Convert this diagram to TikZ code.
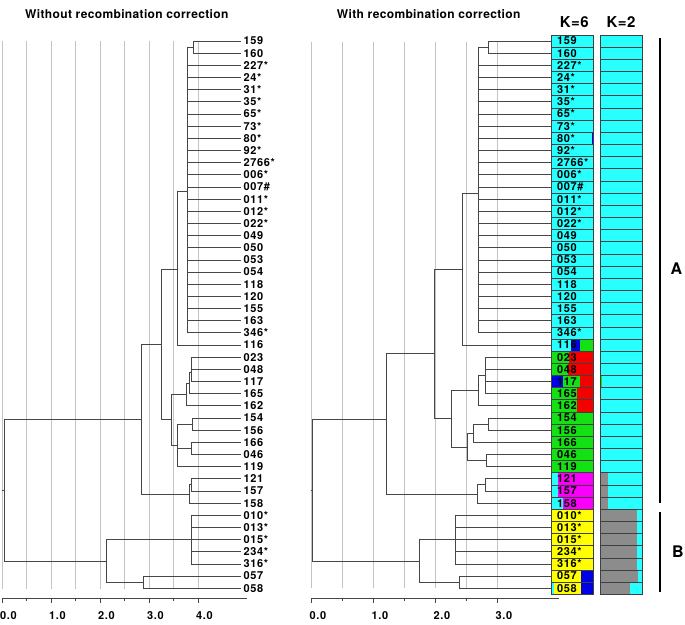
\documentclass[tikz,border=0pt]{standalone}
\usepackage{fontspec}
\setmainfont{TeX Gyre Heros}
\newfontfamily\labfont[LetterSpace=6]{TeX Gyre Heros}
\newfontfamily\titlefont[LetterSpace=3]{TeX Gyre Heros}

\definecolor{kcyan}{RGB}{40,255,255}
\definecolor{kgreen}{RGB}{20,225,20}
\definecolor{kred}{RGB}{245,0,0}
\definecolor{kblue}{RGB}{0,0,230}
\definecolor{kmag}{RGB}{250,0,250}
\definecolor{kyellow}{RGB}{255,255,0}
\definecolor{kgray}{RGB}{140,140,140}
\definecolor{gridgray}{RGB}{195,195,195}
\definecolor{treegray}{RGB}{70,70,70}

\tikzset{
  treeline/.style={draw=treegray, line width=0.7pt},
  gridline/.style={draw=gridgray, line width=0.9pt},
  axisline/.style={draw=treegray, line width=0.8pt},
  rowbox/.style={draw=black!75, line width=0.5pt},
  leaflab/.style={anchor=west, inner ysep=0pt, outer sep=0pt, text height=7.9pt, text depth=0pt,
    font=\fontsize{11}{12}\labfont\bfseries},
  axislab/.style={anchor=base west, inner sep=0pt, font=\fontsize{11}{12}\labfont\bfseries},
  paneltitle/.style={anchor=base west, inner sep=0pt, font=\fontsize{12}{14}\titlefont\bfseries},
  khead/.style={anchor=base, inner sep=0pt, font=\fontsize{15}{16}\titlefont\bfseries},
  grouplab/.style={inner sep=0pt, font=\fontsize{16}{16}\selectfont\bfseries},
  groupbar/.style={draw=black, line width=2.6pt}
}

\begin{document}
\begin{tikzpicture}[x=1pt, y=-1pt]
  \useasboundingbox (0,0) rectangle (685,624);

  % Titles
  \node[paneltitle] (titleA) at (25,18.3) {Without recombination correction};
  \node[paneltitle] (titleB) at (336.7,18.3) {With recombination correction};
  \node[khead] (k6) at (574.3,27.7) {K=6};
  \node[khead] (k2) at (621,27.7) {K=2};

  % Grid lines
  \foreach \k in {0,...,8}
    \draw[gridline] ({2+24.5*\k},41) -- ({2+24.5*\k},588.5);
  \foreach \k in {0,...,6}
    \draw[gridline] ({311.7+31*\k},41.7) -- ({311.7+31*\k},588);

  % Axes
  \coordinate (axA0) at (2,598);
  \coordinate (axA1) at (247,598);
  \coordinate (axB0) at (311.7,598);
  \coordinate (axB1) at (559,598);
  \draw[axisline] (axA0) -- (axA1);
  \draw[axisline] (axB0) -- (axB1);
  \foreach \k in {0,...,8} {
    \pgfmathsetmacro\tl{ifthenelse(mod(\k,2)==0,4.5,2.5)}
    \draw[axisline] ({2+24.5*\k},598) -- ++(0,\tl);
  }
  \foreach \k in {0,...,6} {
    \pgfmathsetmacro\tl{ifthenelse(mod(\k,2)==0,4.5,2.5)}
    \draw[axisline] ({311.7+31*\k},598) -- ++(0,\tl);
  }
  \foreach \v [count=\k from 0] in {0.0,1.0,2.0,3.0,4.0}
    \node[axislab] (tA\k) at ({0+49*\k},619.3) {\v};
  \foreach \v [count=\k from 0] in {0.0,1.0,2.0,3.0}
    \node[axislab] (tB\k) at ({309.5+62*\k},619.3) {\v};

  % K=6 and K=2 bars
  \foreach \r in {1,...,46} {
    \pgfmathsetmacro\ytop{22.76+\r*12.16}
    \pgfmathsetmacro\ybot{34.92+\r*12.16}
    \fill[kcyan] (551.7,\ytop) rectangle (593.3,\ybot);
    \fill[kcyan] (600.7,\ytop) rectangle (642.3,\ybot);
  }
  \foreach \r/\xa/\xb/\c in {9/591.5/593.3/kblue,
      26/570.7/580/kblue, 26/580/593.3/kgreen,
      27/551.7/569.3/kgreen, 27/569.3/593.3/kred,
      28/551.7/568.3/kgreen, 28/568.3/593.3/kred,
      29/551.7/563.3/kblue, 29/563.3/580/kgreen, 29/580/593.3/kred,
      30/551.7/576.7/kgreen, 30/576.7/593.3/kred,
      31/551.7/576.7/kgreen, 31/576.7/593.3/kred,
      32/551.7/593.3/kgreen, 33/551.7/593.3/kgreen, 34/551.7/593.3/kgreen,
      35/551.7/593.3/kgreen, 36/551.7/593.3/kgreen,
      37/558.3/593.3/kmag, 38/558.3/593.3/kmag, 39/563.3/593.3/kmag,
      40/551.7/593.3/kyellow, 41/551.7/593.3/kyellow, 42/551.7/593.3/kyellow,
      43/551.7/593.3/kyellow, 44/551.7/593.3/kyellow,
      45/551.7/581/kyellow, 45/581/593.3/kblue,
      46/554/581/kyellow, 46/581/593.3/kblue,
      29/600.7/601.8/kgreen,
      37/600.7/608.3/kgray, 38/600.7/608.3/kgray, 39/600.7/608.3/kgray,
      40/600.7/637.3/kgray, 41/600.7/637.3/kgray, 42/600.7/637.3/kgray,
      43/600.7/637.3/kgray, 44/600.7/637.3/kgray,
      45/600.7/638/kgray, 46/600.7/630/kgray} {
    \pgfmathsetmacro\ytop{22.76+\r*12.16}
    \pgfmathsetmacro\ybot{34.92+\r*12.16}
    \fill[\c] (\xa,\ytop) rectangle (\xb,\ybot);
  }
  \foreach \r in {1,...,46} {
    \pgfmathsetmacro\ytop{22.76+\r*12.16}
    \pgfmathsetmacro\ybot{34.92+\r*12.16}
    \draw[rowbox] (551.7,\ytop) rectangle (593.3,\ybot);
    \draw[rowbox] (600.7,\ytop) rectangle (642.3,\ybot);
  }

  % Leaf labels
  \foreach \lab [count=\i] in {159,160,227*,24*,31*,35*,65*,73*,80*,92*,2766*,006*,007\#,
      011*,012*,022*,049,050,053,054,118,120,155,163,346*,116,023,048,117,165,162,
      154,156,166,046,119,121,157,158,010*,013*,015*,234*,316*,057,058} {
    \pgfmathsetmacro\yy{41+(\i-1)*12.16}
    \node[leaflab, inner xsep=2.6pt] (a\i) at (241,\yy) {\lab};
    \node[leaflab, inner xsep=5.4pt] (b\i) at (551.7,\yy) {\lab};
  }

  % Tree without correction
  \coordinate (aN14) at (193.3,47.1);
  \coordinate (aN15) at (187.2,191);
  \coordinate (aN16) at (177.3,269);
  \coordinate (aN1) at (191.7,372);
  \coordinate (aN2) at (189.3,382.9);
  \coordinate (aN3) at (186.3,394.3);
  \coordinate (aN4) at (192.3,424);
  \coordinate (aN5) at (191.3,448.4);
  \coordinate (aN6) at (177.7,445.3);
  \coordinate (aN7) at (171,419.8);
  \coordinate (aN8) at (161.7,344.4);
  \coordinate (aN10a) at (191.7,484.8);
  \coordinate (aN10) at (189.3,494);
  \coordinate (aN9) at (141.3,419.2);
  \coordinate (aN11) at (191,539.6);
  \coordinate (aN13) at (143.3,582.1);
  \coordinate (aN12) at (106.7,560.9);
  \coordinate (aR) at (4.3,490);
  \coordinate (aStub) at (1.5,490);

  \foreach \i in {1,2} \draw[treeline] (aN14) |- (a\i.west);
  \foreach \i in {3,...,25} \draw[treeline] (aN15) |- (a\i.west);
  \draw[treeline] (aN15) |- (aN14);
  \draw[treeline] (aN16) |- (aN15);
  \draw[treeline] (aN16) |- (a26.west);
  \foreach \i in {27,28,29} \draw[treeline] (aN1) |- (a\i.west);
  \draw[treeline] (aN2) |- (aN1);
  \draw[treeline] (aN2) |- (a30.west);
  \draw[treeline] (aN3) |- (aN2);
  \draw[treeline] (aN3) |- (a31.west);
  \foreach \i in {32,33} \draw[treeline] (aN4) |- (a\i.west);
  \foreach \i in {34,35} \draw[treeline] (aN5) |- (a\i.west);
  \draw[treeline] (aN6) |- (aN4);
  \draw[treeline] (aN6) |- (aN5);
  \draw[treeline] (aN6) |- (a36.west);
  \draw[treeline] (aN7) |- (aN3);
  \draw[treeline] (aN7) |- (aN6);
  \draw[treeline] (aN8) |- (aN16);
  \draw[treeline] (aN8) |- (aN7);
  \foreach \i in {37,38} \draw[treeline] (aN10a) |- (a\i.west);
  \draw[treeline] (aN10) |- (aN10a);
  \draw[treeline] (aN10) |- (a39.west);
  \draw[treeline] (aN9) |- (aN8);
  \draw[treeline] (aN9) |- (aN10);
  \foreach \i in {40,...,44} \draw[treeline] (aN11) |- (a\i.west);
  \foreach \i in {45,46} \draw[treeline] (aN13) |- (a\i.west);
  \draw[treeline] (aN12) |- (aN11);
  \draw[treeline] (aN12) |- (aN13);
  \draw[treeline] (aR) |- (aN9);
  \draw[treeline] (aR) |- (aN12);
  \draw[treeline] (aStub) -- (aR);

  % Tree with correction
  \coordinate (bN14) at (488.3,47.1);
  \coordinate (bN15) at (478.3,193.3);
  \coordinate (bN16) at (462,269.3);
  \coordinate (bN1) at (485,375.4);
  \coordinate (bN3) at (478.3,390.6);
  \coordinate (bN4) at (488.3,424);
  \coordinate (bN4b) at (473.3,433.2);
  \coordinate (bN5) at (486.7,460.5);
  \coordinate (bN6) at (467.3,446.9);
  \coordinate (bN7) at (451,418.8);
  \coordinate (bN8) at (434.3,353);
  \coordinate (bN10a) at (485.7,484.8);
  \coordinate (bN10) at (477.7,494);
  \coordinate (bN9) at (386,419.3);
  \coordinate (bN11) at (455.7,539.6);
  \coordinate (bN13) at (459.3,582.1);
  \coordinate (bN12) at (419,561);
  \coordinate (bR) at (312.7,490);
  \coordinate (bStub) at (310.5,490);

  \foreach \i in {1,2} \draw[treeline] (bN14) |- (b\i.west);
  \foreach \i in {3,...,25} \draw[treeline] (bN15) |- (b\i.west);
  \draw[treeline] (bN15) |- (bN14);
  \draw[treeline] (bN16) |- (bN15);
  \draw[treeline] (bN16) |- (b26.west);
  \foreach \i in {27,...,30} \draw[treeline] (bN1) |- (b\i.west);
  \draw[treeline] (bN3) |- (bN1);
  \draw[treeline] (bN3) |- (b31.west);
  \foreach \i in {32,33} \draw[treeline] (bN4) |- (b\i.west);
  \draw[treeline] (bN4b) |- (bN4);
  \draw[treeline] (bN4b) |- (b34.west);
  \foreach \i in {35,36} \draw[treeline] (bN5) |- (b\i.west);
  \draw[treeline] (bN6) |- (bN4b);
  \draw[treeline] (bN6) |- (bN5);
  \draw[treeline] (bN7) |- (bN3);
  \draw[treeline] (bN7) |- (bN6);
  \draw[treeline] (bN8) |- (bN16);
  \draw[treeline] (bN8) |- (bN7);
  \foreach \i in {37,38} \draw[treeline] (bN10a) |- (b\i.west);
  \draw[treeline] (bN10) |- (bN10a);
  \draw[treeline] (bN10) |- (b39.west);
  \draw[treeline] (bN9) |- (bN8);
  \draw[treeline] (bN9) |- (bN10);
  \foreach \i in {40,...,44} \draw[treeline] (bN11) |- (b\i.west);
  \foreach \i in {45,46} \draw[treeline] (bN13) |- (b\i.west);
  \draw[treeline] (bN12) |- (bN11);
  \draw[treeline] (bN12) |- (bN13);
  \draw[treeline] (bR) |- (bN9);
  \draw[treeline] (bR) |- (bN12);
  \draw[treeline] (bStub) -- (bR);

  % Groups A and B
  \coordinate (gA0) at (660,38);
  \coordinate (gA1) at (660,503.3);
  \coordinate (gB0) at (660,511.7);
  \coordinate (gB1) at (660,591.7);
  \draw[groupbar] (gA0) -- (gA1);
  \draw[groupbar] (gB0) -- (gB1);
  \node[grouplab] (labA) at (676.5,269) {A};
  \node[grouplab] (labB) at (677.8,551.7) {B};
\end{tikzpicture}
\end{document}
